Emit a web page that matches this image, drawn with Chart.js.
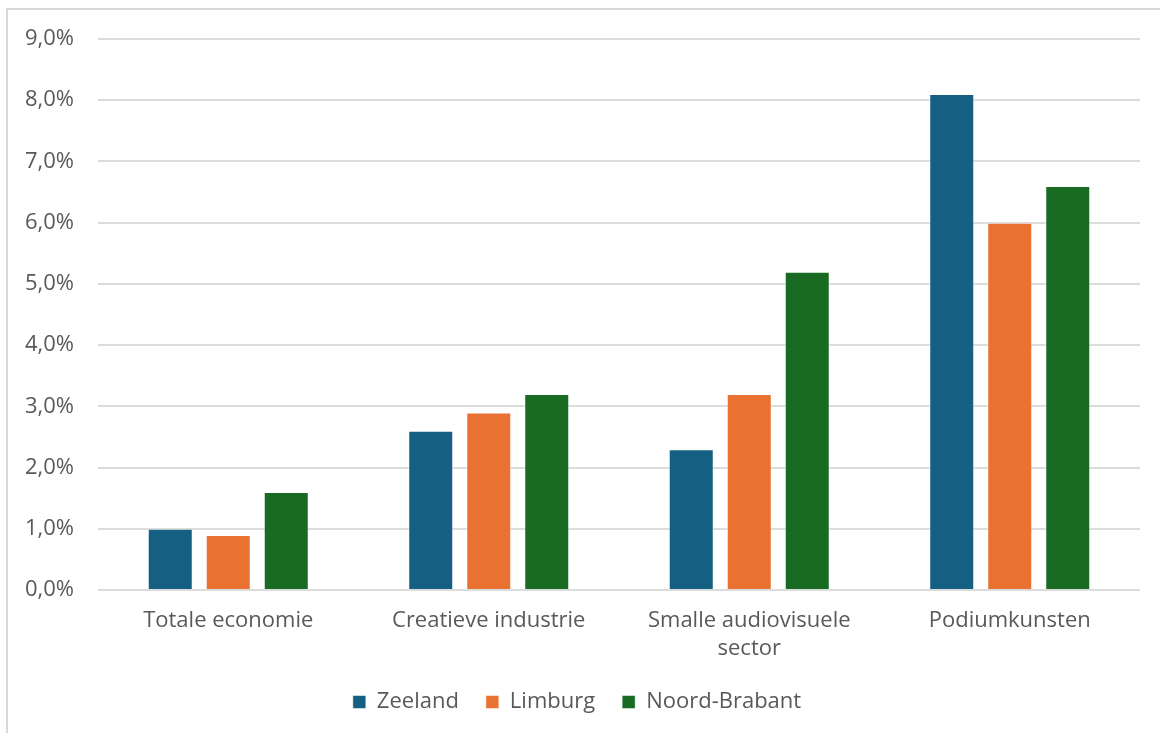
<!DOCTYPE html>
<html>
<head>
<meta charset="utf-8">
<script src="https://cdn.jsdelivr.net/npm/chart.js@4"></script>
<style>
    body { margin: 0; background: #fff; overflow: hidden; }
    #frame { position: absolute; left: 6px; top: 8px; width: 1200px; height: 800px;
             border-left: 2px solid #d9d9d9; border-top: 2px solid #d9d9d9; }
    #wrap { position: absolute; left: 0; top: 0; width: 1160px; height: 733px; }
</style>
</head>
<body>
<div id="frame"></div>
<div id="wrap"><canvas id="chart" width="1160" height="733"></canvas></div>
<script>
// data (percent)
const categories = ['Totale economie', 'Creatieve industrie', ['Smalle audiovisuele', 'sector'], 'Podiumkunsten']
const zeeland = [1.0, 2.6, 2.3, 8.1]
const limburg = [0.9, 2.9, 3.2, 6.0]
const noordBrabant = [1.6, 3.2, 5.2, 6.6]
const yTicks = [0, 1, 2, 3, 4, 5, 6, 7, 8, 9]

const fontFamily = '"Open Sans", "Noto Sans", sans-serif'
const textColor = '#595959'

function bar(label, values, color) {
    return {
        label: label,
        data: values,
        backgroundColor: color,
        borderColor: 'rgba(255,255,255,0.5)',
        borderWidth: 1,
        categoryPercentage: 0.668,
        barPercentage: 0.776
    }
}

const ctx = document.getElementById('chart')
new Chart(ctx, {
    type: 'bar',
    data: {
        labels: categories,
        datasets: [
            bar('Zeeland', zeeland, '#156082'),
            bar('Limburg', limburg, '#E97132'),
            bar('Noord-Brabant', noordBrabant, '#196B24')
        ]
    },
    options: {
        responsive: false,
        maintainAspectRatio: false,
        animation: false,
        layout: { padding: { left: 14, right: 20, top: 39, bottom: 10 } },
        plugins: {
            tooltip: { enabled: false },
            legend: {
                position: 'bottom',
                labels: {
                    boxWidth: 13,
                    boxHeight: 13,
                    padding: 27,
                    color: textColor,
                    font: { family: fontFamily, size: 22 }
                }
            }
        },
        scales: {
            x: {
                grid: { display: false, drawTicks: false },
                border: { display: false },
                ticks: {
                    color: textColor,
                    padding: 17,
                    maxRotation: 0,
                    font: { family: fontFamily, size: 22, lineHeight: 1.27 }
                },
                afterFit: s => { s.height = 74 }
            },
            y: {
                min: 0,
                max: 9,
                afterBuildTicks: s => { s.ticks = yTicks.map(v => ({ value: v })) },
                grid: { color: '#dcdcdc', lineWidth: 2, drawTicks: false },
                border: { display: false },
                ticks: {
                    color: textColor,
                    padding: 24,
                    font: { family: fontFamily, size: 22 },
                    callback: v => v.toFixed(1).replace('.', ',') + '%'
                },
                afterFit: s => { s.width = 84 }
            }
        }
    }
})
</script>
</body>
</html>
